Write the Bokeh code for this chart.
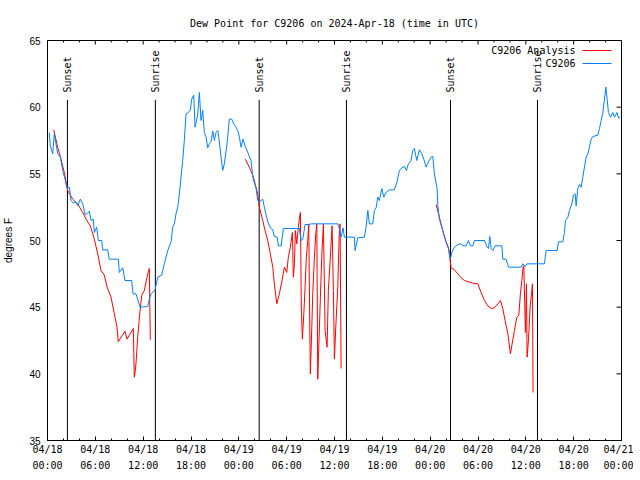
import math
from bokeh.plotting import figure
from bokeh.models import Range1d, FixedTicker, Label, Arrow
from bokeh.core.properties import value
from bokeh.embed import file_html
from bokeh.resources import INLINE

nan = float("nan")

# ---- data (hours since 2024-04-18 00:00 UTC, dew point degrees F) ----
blue_hours = [0.23, 0.35, 0.65, 0.85, 1.07, 1.28, 1.61, 1.91, 2.20, 2.45, 2.74, 2.95, 3.24, 3.58, 3.79,
              4.12, 4.42, 4.74, 5.24, 5.46, 5.75, 5.87, 6.17, 6.37, 6.80, 6.93, 7.55, 7.75, 8.88, 9.01,
              9.44, 9.72, 10.56, 10.73, 11.10, 11.61, 12.57, 12.77, 12.99, 13.49, 13.83, 14.33, 14.65,
              15.08, 15.50, 15.71, 15.91, 16.12, 16.34, 16.54, 16.75, 16.96, 17.16, 17.38, 17.67, 17.92,
              18.09, 18.34, 18.51, 18.67, 18.85, 19.05, 19.26, 19.47, 19.67, 19.89, 20.10, 20.30, 20.51,
              20.73, 20.93, 21.14, 21.36, 21.56, 21.77, 21.98, 22.18, 22.52, 22.81, 23.11, 23.36, 23.65,
              23.86, 24.07, 24.28, 24.53, 24.78, 25.12, 25.53, 25.75, 26.16, 26.37, 26.58, 27.00, 27.20,
              27.63, 27.95, 28.26, 28.46, 28.80, 28.96, 29.30, 29.59, 31.59, 31.81, 32.02, 32.31, 32.85,
              33.06, 36.41, 36.61, 36.83, 37.08, 37.24, 38.49, 38.58, 38.92, 39.75, 39.96, 40.18, 40.38,
              40.80, 41.00, 41.22, 41.43, 41.63, 41.93, 42.18, 42.47, 42.89, 43.51, 43.85, 44.14, 44.44,
              44.77, 45.02, 45.27, 45.61, 45.82, 46.02, 46.32, 46.65, 46.95, 47.20, 47.49, 47.78, 48.12,
              48.33, 48.53, 48.87, 48.96, 49.16, 49.59, 50.00, 50.29, 50.54, 50.71, 51.04, 51.47, 51.88,
              52.10, 52.51, 52.80, 53.05, 53.35, 53.55, 54.81, 55.14, 55.31, 55.48, 55.65, 55.86, 56.15,
              56.99, 57.11, 57.53, 57.82, 59.41, 59.62, 59.91, 60.16, 62.33, 62.55, 63.93, 64.09, 64.64,
              64.84, 64.97, 65.27, 65.47, 65.77, 65.97, 66.19, 66.31, 66.52, 66.73, 66.94, 67.15, 67.35,
              67.57, 67.78, 67.98, 68.19, 68.41, 69.03, 69.24, 69.45, 69.66, 69.86, 70.04, 70.20, 70.36,
              70.62, 70.92, 71.12, 71.42, 71.62, 71.87]
blue_dewpt = [58.1, 57.1, 56.5, 58.0, 57.25, 56.5, 56.25, 55.25, 54.6, 53.9, 54.0, 53.0, 52.8, 52.9, 52.6,
              53.1, 52.75, 51.9, 52.2, 51.5, 51.6, 50.6, 51.0, 50.0, 50.0, 49.3, 49.3, 48.6, 48.6, 47.6,
              47.95, 47.0, 47.0, 46.0, 46.0, 45.0, 45.05, 45.6, 46.0, 46.3, 47.25, 47.4, 48.25,
              49.25, 49.9, 51.0, 51.25, 52.0, 52.5, 53.5, 54.75, 56.0, 57.5, 59.5, 59.6, 59.8,
              60.6, 60.9, 58.5, 58.9, 59.5, 61.1, 59.0, 59.75, 58.1, 57.75, 56.95, 57.25, 57.4,
              58.2, 57.5, 58.1, 58.25, 57.4, 56.25, 55.25, 55.75, 57.25, 59.1, 59.1, 58.75, 58.5,
              58.25, 57.75, 57.0, 57.6, 57.1, 56.6, 56.0, 54.75, 53.9, 53.0, 52.9, 53.1, 52.5,
              51.4, 50.95, 50.8, 50.3, 50.25, 49.6, 49.6, 50.9, 50.9, 50.0, 50.1, 51.2, 51.2,
              51.25, 51.25, 50.9, 50.25, 50.95, 50.25, 50.25, 49.25, 50.2, 50.25, 51.0, 52.25, 51.25,
              51.25, 52.25, 52.45, 53.25, 53.0, 53.9, 53.25, 53.6, 53.8, 53.8, 54.4, 55.25, 55.45,
              55.55, 55.25, 55.75, 56.0, 56.75, 56.9, 56.0, 56.8, 56.5, 56.1, 55.5, 55.9, 56.25,
              56.3, 55.0, 53.9, 52.6, 51.6, 50.75, 49.9, 49.5, 48.6, 49.1, 49.5, 49.7, 49.75,
              49.6, 49.6, 50.0, 49.6, 49.6, 50.0, 50.0, 49.5, 49.4, 50.3, 49.4, 49.25, 49.6,
              49.6, 48.6, 48.6, 48.0, 48.0, 48.25, 48.05, 48.25, 48.25, 49.25, 49.25, 49.9, 49.9,
              50.6, 51.5, 51.75, 52.25, 52.75, 53.4, 53.5, 52.6, 53.9, 54.2, 54.0, 54.75, 55.5,
              56.25, 56.5, 57.0, 57.6, 57.8, 57.9, 58.4, 59.0, 59.6, 60.6, 61.5, 60.6, 59.6,
              59.25, 59.6, 59.25, 59.6, 59.2, 59.2]

red_hours = [0.78, 1.28, 1.69, 2.11, 2.53, 3.16, 3.79, 4.42, 4.83, 5.37, 5.87, 6.30, 6.71, 7.13, 7.47,
             7.97, 8.38, 8.72, 8.88, 9.22, 9.72, 9.97, 10.26, 10.77, 10.82, 10.89, 11.02, 11.14, 11.32,
             11.57, 11.82, 12.15, 12.48, 12.77, 12.90,
             nan,
             24.81, 25.32, 25.75, 26.04, 26.37, 26.58, 27.00, 27.29, 27.63, 27.95, 28.26, 28.46, 28.76,
             29.08, 29.39, 29.71, 30.01, 30.21, 30.46, 30.72, 30.84, 30.97, 31.09, 31.27, 31.47, 31.59,
             31.72, 31.84, 31.97, 32.15, 32.31, 32.47, 32.65, 32.77, 32.90, 32.97, 33.10, 33.27, 33.48,
             33.65, 33.78, 33.90, 34.03, 34.23, 34.40, 34.61, 34.82, 35.07, 35.23, 35.48, 35.70, 35.86,
             35.99, 36.16, 36.41, 36.61, 36.70, 36.83,
             nan,
             48.75, 49.16, 49.59, 50.00, 50.29, 50.42, 50.63, 51.04, 51.47, 51.88, 52.30, 52.80, 53.35,
             53.98, 54.39, 54.81, 55.23, 55.65, 56.06, 56.49, 56.82, 57.11, 57.40, 57.74, 58.07, 58.28,
             58.57, 58.87, 59.12, 59.32, 59.50, 59.66, 59.75, 59.95, 60.08, 60.16, 60.33, 60.54, 60.75,
             60.83, 60.91]
red_dewpt = [58.3, 57.0, 56.1, 55.1, 53.75, 53.1, 52.75, 52.1, 51.6, 51.1, 50.1, 49.0, 47.75, 47.4, 46.5,
             45.75, 44.5, 43.5, 42.4, 42.75, 43.2, 42.6, 42.9, 43.4, 41.6, 39.75, 40.25, 41.1, 42.8,
             44.5, 45.9, 46.25, 47.25, 47.9, 42.55,
             nan,
             56.1, 55.5, 54.9, 54.25, 53.5, 52.5, 51.5, 50.75, 50.0, 49.0, 48.0, 46.75, 45.25,
             46.0, 46.9, 48.0, 47.6, 48.75, 49.5, 50.6, 47.25, 48.25, 50.75, 49.75, 51.0, 51.6,
             52.1, 45.0, 42.6, 44.5, 46.5, 48.75, 50.0, 51.25, 43.5, 40.0, 42.4, 46.0, 48.75,
             50.5, 51.25, 39.6, 42.0, 45.75, 48.75, 51.25, 43.25, 42.0, 46.25, 48.75, 51.1, 46.25,
             41.1, 43.5, 46.5, 50.75, 51.25, 40.4,
             nan,
             52.7, 51.75, 50.7, 49.85, 49.4, 48.9, 47.95, 47.8, 47.5, 47.2, 47.0, 46.9, 46.8,
             46.75, 46.1, 45.5, 45.1, 44.9, 44.95, 45.25, 45.5, 44.9, 44.0, 43.0, 41.5, 42.25,
             43.25, 44.25, 44.4, 46.0, 47.0, 48.0, 48.1, 43.1, 46.75, 41.25, 42.5, 45.0, 46.25,
             46.75, 38.6]

sunset_hours = [2.5, 26.55, 50.55]
sunrise_hours = [13.53, 37.5, 61.46]

x_tick_hours = [0, 6, 12, 18, 24, 30, 36, 42, 48, 54, 60, 66, 72]
x_tick_labels = ["04/18\n00:00", "04/18\n06:00", "04/18\n12:00", "04/18\n18:00",
                 "04/19\n00:00", "04/19\n06:00", "04/19\n12:00", "04/19\n18:00",
                 "04/20\n00:00", "04/20\n06:00", "04/20\n12:00", "04/20\n18:00",
                 "04/21\n00:00"]
x_minor_hours = list(range(0, 73, 2))
y_ticks = [35, 40, 45, 50, 55, 60, 65]
x_min, x_max = 0, 72
y_min, y_max = 35, 65

series_names = ["C9206 Analysis", "C9206"]
series_colors = ["#ff0000", "#0080ff"]

MONO = "DejaVu Sans Mono"
SANS = "Liberation Sans"

p = figure(frame_width=574, frame_height=400,
           x_range=Range1d(x_min, x_max), y_range=Range1d(y_min, y_max),
           output_backend="svg", toolbar_location=None,
           min_border_left=42, min_border_right=12, min_border_top=40, min_border_bottom=8)
p.background_fill_color = "white"
p.border_fill_color = "white"
p.xgrid.visible = False
p.ygrid.visible = False
p.outline_line_color = "black"
p.outline_line_alpha = 1.0
p.outline_line_width = 1

p.title.text = "Dew Point for C9206 on 2024-Apr-18 (time in UTC)"
p.title.align = "center"
p.title.text_font = MONO
p.title.text_font_size = "10px"
p.title.text_font_style = "normal"
p.title.text_color = "black"
p.title.standoff = 23

# bottom axis
xa = p.xaxis[0]
xa.ticker = FixedTicker(ticks=x_tick_hours, minor_ticks=x_minor_hours)
xa.major_label_overrides = {h: lab for h, lab in zip(x_tick_hours, x_tick_labels)}
xa.major_tick_in = 4
xa.major_tick_out = 0
xa.minor_tick_in = 2
xa.minor_tick_out = 0
xa.major_label_standoff = 3
xa.major_label_text_font = MONO
xa.major_label_text_font_size = "10px"
xa.major_label_text_line_height = 1.5
xa.major_label_text_color = "black"
xa.axis_line_color = "black"

# left axis
ya = p.yaxis[0]
ya.ticker = FixedTicker(ticks=y_ticks, minor_ticks=[])
ya.major_tick_in = 0
ya.major_tick_out = 0
ya.major_label_standoff = 7
ya.major_label_text_font = SANS
ya.major_label_text_font_size = "10px"
ya.major_label_text_color = "black"
ya.axis_label = "degrees F"
ya.axis_label_text_font = SANS
ya.axis_label_text_font_size = "10px"
ya.axis_label_text_font_style = "normal"
ya.axis_label_text_color = "black"
ya.axis_label_standoff = 12
ya.axis_line_color = "black"

# mirrored ticks on the top and right edges (drawn from the tick lists)
major_top = x_tick_hours
minor_top = [h for h in x_minor_hours if h not in x_tick_hours]
p.ray(x=major_top, y=[y_max] * len(major_top), length=4, length_units="screen",
      angle=-math.pi / 2, line_color="black", line_width=1)
p.ray(x=minor_top, y=[y_max] * len(minor_top), length=2, length_units="screen",
      angle=-math.pi / 2, line_color="black", line_width=1)
p.ray(x=[x_max] * len(y_ticks), y=y_ticks, length=5, length_units="screen",
      angle=math.pi, line_color="black", line_width=1)

# sunrise / sunset markers
sun_hours = sunset_hours + sunrise_hours
sun_labels = ["Sunset"] * len(sunset_hours) + ["Sunrise"] * len(sunrise_hours)
p.segment(x0=sun_hours, y0=[y_min] * len(sun_hours), x1=sun_hours, y1=[60.55] * len(sun_hours),
          line_color="black", line_width=1)
p.text(x=sun_hours, y=[61.1] * len(sun_hours), text=sun_labels, angle=math.pi / 2,
       text_align="left", text_baseline="middle", text_font=value(MONO),
       text_font_size="10px", text_color="black")

# series
p.line(red_hours, red_dewpt, line_color=series_colors[0], line_width=1)
p.line(blue_hours, blue_dewpt, line_color=series_colors[1], line_width=1)

# legend (gnuplot style: text then sample line)
for i, (name, col) in enumerate(zip(series_names, series_colors)):
    yy = 390 - 13 * i
    p.add_layout(Label(x=528, y=yy, x_units="screen", y_units="screen", text=name,
                       text_align="right", text_baseline="middle", text_font=MONO,
                       text_font_size="10px", text_color="black"))
    p.add_layout(Arrow(end=None, x_start=535, y_start=yy, x_end=564, y_end=yy,
                       start_units="screen", end_units="screen", line_color=col, line_width=1))

open("out.html", "w").write(file_html(p, INLINE))
